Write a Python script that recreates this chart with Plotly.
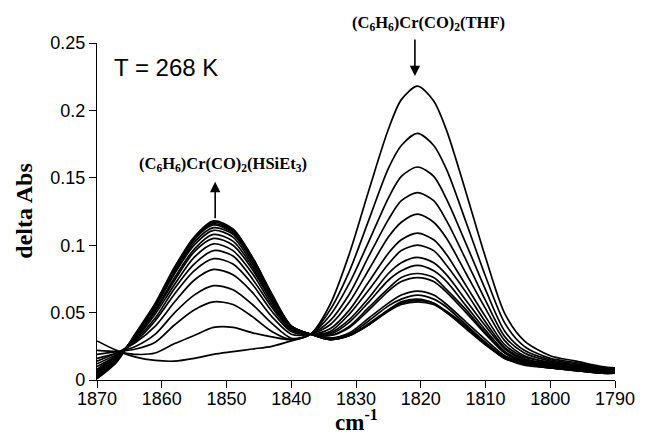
import plotly.graph_objects as go

# wavenumber grid (cm-1)
wn = [1870, 1867, 1864, 1861, 1858, 1855, 1852, 1849, 1846, 1843, 1840, 1837, 1834, 1831,
      1828, 1825, 1823, 1820.5, 1818, 1816, 1813, 1810, 1807, 1804, 1800, 1796, 1792, 1790]

# delta Abs spectra, in time order
s01 = [0.029, 0.022, 0.017, 0.0145, 0.014, 0.016, 0.019, 0.021, 0.023, 0.025, 0.029, 0.034, 0.056, 0.094,
       0.141, 0.186, 0.208, 0.218, 0.207, 0.185, 0.139, 0.091, 0.049, 0.029, 0.018, 0.014, 0.010, 0.009]
s02 = [0.022, 0.021, 0.019, 0.020, 0.027, 0.033, 0.039, 0.039, 0.035, 0.032, 0.030, 0.034, 0.052, 0.081,
       0.119, 0.157, 0.174, 0.183, 0.174, 0.156, 0.117, 0.077, 0.042, 0.025, 0.016, 0.013, 0.009, 0.008]
s03 = [0.019, 0.021, 0.023, 0.028, 0.041, 0.052, 0.058, 0.056, 0.047, 0.036, 0.030, 0.034, 0.048, 0.072,
       0.103, 0.135, 0.151, 0.158, 0.151, 0.134, 0.101, 0.067, 0.036, 0.022, 0.015, 0.012, 0.009, 0.008]
s04 = [0.016, 0.020, 0.025, 0.034, 0.050, 0.063, 0.070, 0.067, 0.056, 0.042, 0.031, 0.034, 0.044, 0.064,
       0.092, 0.119, 0.133, 0.139, 0.133, 0.118, 0.089, 0.059, 0.032, 0.020, 0.014, 0.011, 0.008, 0.007]
s05 = [0.014, 0.020, 0.028, 0.040, 0.058, 0.074, 0.082, 0.078, 0.065, 0.047, 0.034, 0.034, 0.041, 0.058,
       0.082, 0.106, 0.117, 0.123, 0.117, 0.105, 0.079, 0.053, 0.029, 0.018, 0.013, 0.011, 0.008, 0.007]
s06 = [0.012, 0.019, 0.029, 0.044, 0.064, 0.081, 0.090, 0.086, 0.071, 0.051, 0.036, 0.034, 0.038, 0.052,
       0.073, 0.094, 0.104, 0.109, 0.104, 0.093, 0.070, 0.047, 0.026, 0.017, 0.013, 0.010, 0.008, 0.007]
s07 = [0.010, 0.018, 0.030, 0.046, 0.068, 0.086, 0.096, 0.092, 0.075, 0.054, 0.037, 0.034, 0.036, 0.049,
       0.067, 0.086, 0.096, 0.100, 0.096, 0.085, 0.065, 0.043, 0.024, 0.016, 0.012, 0.010, 0.007, 0.006]
s08 = [0.008, 0.018, 0.031, 0.049, 0.071, 0.091, 0.101, 0.096, 0.079, 0.056, 0.038, 0.034, 0.035, 0.045,
       0.061, 0.079, 0.087, 0.091, 0.087, 0.078, 0.059, 0.040, 0.023, 0.015, 0.012, 0.010, 0.007, 0.006]
s09 = [0.007, 0.017, 0.032, 0.051, 0.074, 0.095, 0.105, 0.100, 0.082, 0.058, 0.038, 0.034, 0.034, 0.043,
       0.058, 0.074, 0.081, 0.085, 0.081, 0.073, 0.055, 0.037, 0.021, 0.014, 0.011, 0.009, 0.007, 0.006]
s10 = [0.006, 0.017, 0.032, 0.052, 0.076, 0.097, 0.108, 0.103, 0.084, 0.059, 0.039, 0.034, 0.033, 0.040,
       0.054, 0.068, 0.076, 0.079, 0.076, 0.067, 0.052, 0.035, 0.020, 0.014, 0.011, 0.009, 0.007, 0.006]
s11 = [0.005, 0.016, 0.033, 0.054, 0.079, 0.100, 0.111, 0.106, 0.086, 0.061, 0.040, 0.034, 0.033, 0.039,
       0.052, 0.066, 0.073, 0.076, 0.073, 0.065, 0.050, 0.034, 0.020, 0.013, 0.010, 0.008, 0.006, 0.006]
s12 = [0.004, 0.015, 0.033, 0.055, 0.080, 0.102, 0.113, 0.108, 0.088, 0.061, 0.040, 0.034, 0.031, 0.035,
       0.046, 0.057, 0.063, 0.066, 0.063, 0.056, 0.043, 0.030, 0.018, 0.013, 0.010, 0.008, 0.006, 0.005]
s13 = [0.003, 0.015, 0.034, 0.055, 0.081, 0.104, 0.115, 0.109, 0.089, 0.062, 0.040, 0.034, 0.031, 0.034,
       0.044, 0.055, 0.060, 0.063, 0.060, 0.054, 0.041, 0.028, 0.017, 0.012, 0.010, 0.008, 0.006, 0.005]
s14 = [0.002, 0.014, 0.034, 0.056, 0.082, 0.105, 0.116, 0.110, 0.090, 0.063, 0.040, 0.034, 0.030, 0.033,
       0.042, 0.052, 0.058, 0.060, 0.057, 0.051, 0.040, 0.027, 0.016, 0.012, 0.009, 0.007, 0.005, 0.005]
s15 = [0.001, 0.014, 0.034, 0.056, 0.083, 0.105, 0.117, 0.111, 0.091, 0.063, 0.040, 0.034, 0.030, 0.033,
       0.041, 0.052, 0.057, 0.059, 0.057, 0.050, 0.039, 0.027, 0.016, 0.012, 0.009, 0.007, 0.005, 0.005]
s16 = [0.001, 0.013, 0.035, 0.057, 0.084, 0.106, 0.118, 0.112, 0.091, 0.064, 0.040, 0.034, 0.030, 0.033,
       0.041, 0.051, 0.056, 0.058, 0.056, 0.050, 0.038, 0.026, 0.016, 0.011, 0.009, 0.007, 0.005, 0.005]

x_ticks = [1870, 1860, 1850, 1840, 1830, 1820, 1810, 1800, 1790]
y_ticks = [0, 0.05, 0.1, 0.15, 0.2, 0.25]
y_ticktext = ["0", "0.05", "0.1", "0.15", "0.2", "0.25"]

spectra = [s01, s02, s03, s04, s05, s06, s07, s08, s09, s10, s11, s12, s13, s14, s15, s16]

fig = go.Figure()
for s in spectra:
    fig.add_trace(go.Scatter(x=wn, y=s, mode="lines",
                             line=dict(color="black", width=1.7, shape="spline", smoothing=0.8),
                             showlegend=False, hoverinfo="skip"))

tickfont = dict(family="Liberation Sans, Arial", size=18, color="black")
fig.update_layout(
    width=647, height=434,
    margin=dict(l=97, r=24, t=43, b=54),
    paper_bgcolor="white", plot_bgcolor="white",
    xaxis=dict(range=[1870, 1790], tickvals=x_ticks, ticks="outside", ticklen=7, tickwidth=1.3,
               showline=True, linecolor="black", linewidth=1.3, showgrid=False, zeroline=False,
               tickfont=tickfont, tickcolor="black", ticklabelstandoff=-5),
    yaxis=dict(range=[0, 0.25], tickvals=y_ticks, ticktext=y_ticktext, ticks="outside", ticklen=7,
               tickwidth=1.3, showline=True, linecolor="black", linewidth=1.3, showgrid=False,
               zeroline=False, tickfont=tickfont, tickcolor="black"),
)

serif_b = dict(family="Liberation Serif, Times New Roman", color="black")
fig.add_annotation(text="<b>delta Abs</b>", xref="paper", yref="paper", x=-0.1426, y=0.5,
                   xanchor="center", yanchor="middle", textangle=-90, showarrow=False,
                   font=dict(size=24, **serif_b))
fig.add_annotation(text="<b>cm<sup>-1</sup></b>", xref="paper", yref="paper", x=0.5, y=-0.121,
                   xanchor="center", yanchor="middle", showarrow=False,
                   font=dict(size=23, **serif_b))
fig.add_annotation(text="T = 268 K", xref="paper", yref="paper", x=(112 - 97) / 526, y=(380 - 67) / 337,
                   xanchor="left", yanchor="middle", showarrow=False,
                   font=dict(family="Liberation Sans, Arial", size=24, color="black"))
fig.add_annotation(text="<b>(C<sub>6</sub>H<sub>6</sub>)Cr(CO)<sub>2</sub>(HSiEt<sub>3</sub>)</b>",
                   xref="paper", yref="paper", x=(225 - 97) / 526, y=(380 - 164) / 337,
                   xanchor="center", yanchor="middle",
                   showarrow=False, font=dict(size=16.5, **serif_b))
fig.add_annotation(text="<b>(C<sub>6</sub>H<sub>6</sub>)Cr(CO)<sub>2</sub>(THF)</b>",
                   xref="paper", yref="paper", x=(434 - 97) / 526, y=(380 - 23) / 337,
                   xanchor="center", yanchor="middle",
                   showarrow=False, font=dict(size=16.5, **serif_b))
# arrows (head position in data coords, tail offset in pixels)
fig.add_annotation(x=1851.75, y=0.147, xref="x", yref="y", ax=0, ay=37,
                   text="", showarrow=True, arrowhead=2, arrowsize=1.3, arrowwidth=1.6,
                   arrowcolor="black", font=dict(size=1), borderpad=0)
fig.add_annotation(x=1820.9, y=0.2255, xref="x", yref="y", ax=0, ay=-37,
                   text="", showarrow=True, arrowhead=2, arrowsize=1.3, arrowwidth=1.6,
                   arrowcolor="black", font=dict(size=1), borderpad=0)

fig.write_html("out.html", config={"displayModeBar": False})
